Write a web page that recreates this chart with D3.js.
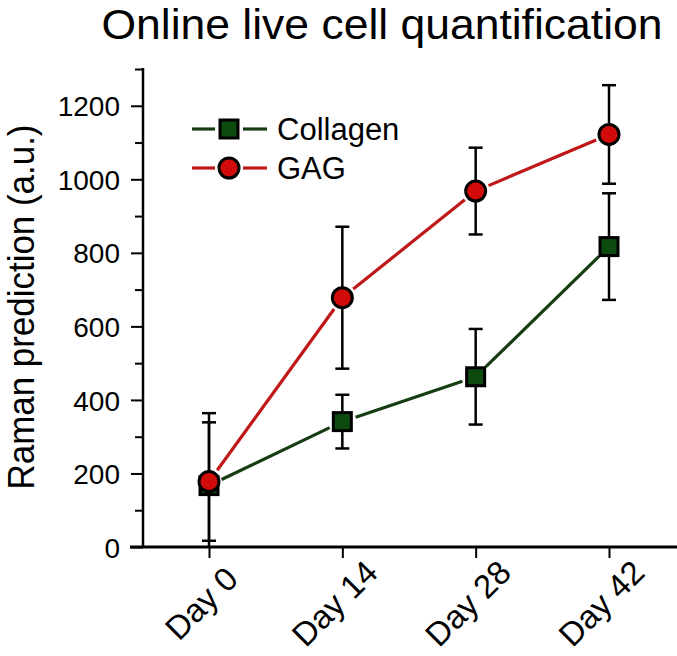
<!DOCTYPE html>
<html><head><meta charset="utf-8">
<script src="https://cdn.jsdelivr.net/npm/d3@7"></script>
<style>body{margin:0;background:#fff}svg{display:block}text{font-family:"Liberation Sans",Arial,sans-serif;fill:#000}</style>
</head><body><svg id="c" width="677" height="656"></svg>
<script>
const days = ["Day 0","Day 14","Day 28","Day 42"];
const collagen = [167, 341, 463, 817];
const collagenErr = [197, 73, 130, 145];
const gag = [178, 678, 968, 1122];
const gagErr = [161, 193, 118, 134];
const yTicks = [0,200,400,600,800,1000,1200];
const yMinorTicks = [100,300,500,700,900,1100,1300];
const seriesNames = ["Collagen","GAG"];

const svg = d3.select("#c");
const x = d3.scalePoint().domain(days).range([209, 609]);
const y = d3.scaleLinear().domain([0,1300]).range([547, 69]);

svg.append("defs").append("clipPath").attr("id","pc").append("rect")
  .attr("x",130).attr("y",0).attr("width",547).attr("height",547);

// title
svg.append("text").attr("x",382).attr("y",39).attr("text-anchor","middle")
  .style("font-size","43px").attr("textLength",561).attr("lengthAdjust","spacingAndGlyphs")
  .text("Online live cell quantification");

// y axis
const ya = svg.append("g").attr("transform","translate(143,0)")
  .call(d3.axisLeft(y).tickValues(yTicks).tickSize(12).tickPadding(11).tickFormat(d3.format("d")));
ya.select(".domain").remove();
ya.selectAll("line").attr("stroke","#000").attr("stroke-width",2);
ya.selectAll("text").style("font-size","28px").attr("dy","0.36em");
const yminor = svg.append("g").attr("transform","translate(143,0)")
  .call(d3.axisLeft(y).tickValues(yMinorTicks).tickSize(8).tickFormat(""));
yminor.select(".domain").remove();
yminor.selectAll("line").attr("stroke","#000").attr("stroke-width",2);
svg.append("line").attr("x1",143).attr("x2",143).attr("y1",y(1300)-1).attr("y2",548)
  .attr("stroke","#000").attr("stroke-width",2.5);

// x axis
const xa = svg.append("g").attr("transform","translate(0,547)")
  .call(d3.axisBottom(x).tickSize(11).tickFormat(""));
xa.select(".domain").remove();
xa.selectAll("line").attr("stroke","#000").attr("stroke-width",2);
svg.append("line").attr("x1",130).attr("x2",677).attr("y1",547).attr("y2",547)
  .attr("stroke","#000").attr("stroke-width",3);
svg.append("g").selectAll("text").data(days).join("text")
  .attr("text-anchor","middle").attr("dy","0.36em")
  .attr("transform",d=>`translate(${x(d)-8},${603}) rotate(-45)`)
  .style("font-size","33px").text(d=>d);

// y label
svg.append("text").attr("transform","translate(34,307) rotate(-90)")
  .attr("text-anchor","middle").style("font-size","37px")
  .attr("textLength",365).attr("lengthAdjust","spacingAndGlyphs")
  .text("Raman prediction (a.u.)");

const plot = svg.append("g").attr("clip-path","url(#pc)");

const series = [
  {name:seriesNames[0], vals:collagen, err:collagenErr, line:"#163d12", fill:"#0d4a0d", shape:"square", gap:14},
  {name:seriesNames[1], vals:gag, err:gagErr, line:"#c01818", fill:"#d10a0a", shape:"circle", gap:14}
];

function seg(g, x1,y1,x2,y2,gap,color){
  const dx=x2-x1, dy=y2-y1, L=Math.hypot(dx,dy), ux=dx/L, uy=dy/L;
  g.append("line").attr("x1",x1+ux*gap).attr("y1",y1+uy*gap)
    .attr("x2",x2-ux*gap).attr("y2",y2-uy*gap)
    .attr("stroke",color).attr("stroke-width",3.2);
}
series.forEach(s=>{
  s.vals.forEach((v,i)=>{
    const cx=x(days[i]);
    plot.append("line").attr("x1",cx).attr("x2",cx).attr("y1",y(v+s.err[i])).attr("y2",y(v-s.err[i]))
      .attr("stroke","#000").attr("stroke-width",2.5);
    [v+s.err[i], v-s.err[i]].forEach(e=>{
      plot.append("line").attr("x1",cx-7).attr("x2",cx+7).attr("y1",y(e)).attr("y2",y(e))
        .attr("stroke","#000").attr("stroke-width",2.5);
    });
  });
});
series.forEach(s=>{
  for(let i=0;i<s.vals.length-1;i++){
    seg(plot, x(days[i]),y(s.vals[i]),x(days[i+1]),y(s.vals[i+1]),s.gap,s.line);
  }
});
function marker(g,s,cx,cy){
  if(s.shape==="square"){
    g.append("rect").attr("x",cx-9).attr("y",cy-9).attr("width",18).attr("height",18)
      .attr("fill",s.fill).attr("stroke","#000").attr("stroke-width",3);
  } else {
    g.append("circle").attr("cx",cx).attr("cy",cy).attr("r",10)
      .attr("fill",s.fill).attr("stroke","#000").attr("stroke-width",3);
  }
}
series.forEach(s=>{ s.vals.forEach((v,i)=>marker(svg,s,x(days[i]),y(v))); });

// legend
series.forEach((s,i)=>{
  const ly = 129 + i*39;
  svg.append("line").attr("x1",192).attr("x2",215).attr("y1",ly).attr("y2",ly).attr("stroke",s.line).attr("stroke-width",3.2);
  svg.append("line").attr("x1",243).attr("x2",267).attr("y1",ly).attr("y2",ly).attr("stroke",s.line).attr("stroke-width",3.2);
  marker(svg,s,229,ly);
  svg.append("text").attr("x",277).attr("y",ly).attr("dy","0.36em").style("font-size","31px").text(s.name);
});
</script></body></html>
